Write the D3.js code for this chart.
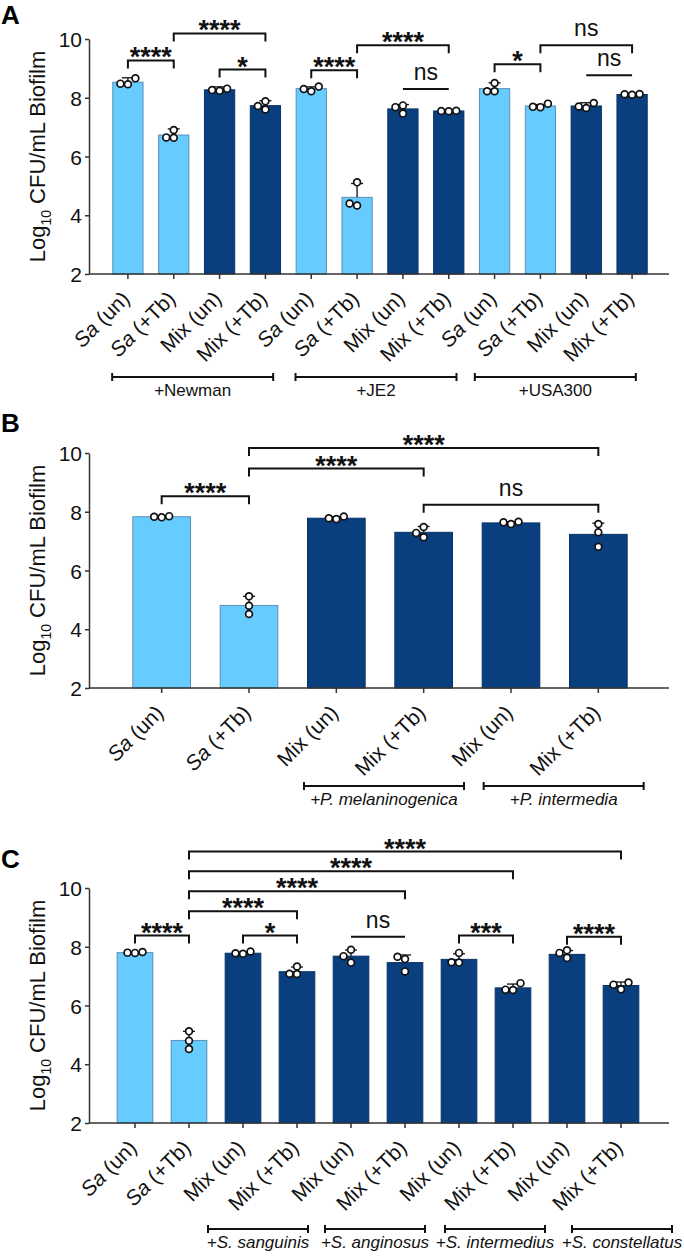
<!DOCTYPE html>
<html><head><meta charset="utf-8">
<script src="https://cdn.jsdelivr.net/npm/d3@7"></script>
<style>
body{margin:0;background:#fff}
svg{display:block}
text{font-family:"Liberation Sans",Arial,Helvetica,sans-serif}
</style>
</head><body>
<svg id="chart" width="684" height="1257"></svg>
<script>
// ---------------- DATA ----------------
const yTicks = [2, 4, 6, 8, 10];

// Panel A
const catsA = ["Sa (un)","Sa (+Tb)","Mix (un)","Mix (+Tb)","Sa (un)","Sa (+Tb)","Mix (un)","Mix (+Tb)","Sa (un)","Sa (+Tb)","Mix (un)","Mix (+Tb)"];
const meansA = [8.53, 6.73, 8.27, 7.73, 8.31, 4.61, 7.62, 7.55, 8.31, 7.72, 7.72, 8.11];
const errsA = [0.15, 0.21, 0.10, 0.17, 0.06, 0.47, 0.15, 0.03, 0.20, 0.05, 0.11, 0.04];
const pointsA = [[8.66,8.46,8.48],[6.90,6.65,6.64],[8.31,8.24,8.26],[7.88,7.72,7.60],[8.38,8.30,8.22],[5.12,4.33,4.40],[7.74,7.68,7.46],[7.56,7.54,7.55],[8.50,8.22,8.22],[7.80,7.69,7.68],[7.82,7.70,7.65],[8.12,8.10,8.13]];
const sigsA = [[0,1,9.27,"****",true],[1,3,10.19,"****",true],[2,3,8.96,"*",true],[4,5,8.94,"****",true],[5,7,9.79,"****",true],[6,7,8.30,"ns",false],[8,9,9.14,"*",true],[9,11,9.79,"ns",true],[10,11,8.77,"ns",false]];
const groupsA = [["+Newman",0,3],["+JE2",4,7],["+USA300",8,11]];

// Panel B
const catsB = ["Sa (un)","Sa (+Tb)","Mix (un)","Mix (+Tb)","Mix (un)","Mix (+Tb)"];
const meansB = [7.83, 4.81, 7.78, 7.30, 7.62, 7.23];
const errsB = [0.03, 0.31, 0.05, 0.20, 0.04, 0.38];
const pointsB = [[7.81,7.85,7.83],[5.12,4.80,4.52],[7.75,7.84,7.78],[7.48,7.28,7.13],[7.58,7.66,7.64],[7.58,7.30,6.81]];
const sigsB = [[0,1,8.53,"****",true],[1,3,9.47,"****",true],[1,5,10.17,"****",true],[3,5,8.24,"ns",true]];
const groupsB = [["+P. melaninogenica",2,3],["+P. intermedia",4,5]];

// Panel C
const catsC = ["Sa (un)","Sa (+Tb)","Mix (un)","Mix (+Tb)","Mix (un)","Mix (+Tb)","Mix (un)","Mix (+Tb)","Mix (un)","Mix (+Tb)"];
const meansC = [7.80, 4.81, 7.78, 7.15, 7.68, 7.46, 7.57, 6.60, 7.74, 6.68];
const errsC = [0.02, 0.31, 0.04, 0.16, 0.21, 0.26, 0.19, 0.13, 0.13, 0.12];
const pointsC = [[7.80,7.82,7.79],[5.12,4.80,4.52],[7.76,7.84,7.78],[7.33,7.07,7.08],[7.90,7.68,7.46],[7.66,7.58,7.16],[7.79,7.47,7.46],[6.76,6.53,6.54],[7.88,7.79,7.62],[6.78,6.71,6.55]];
const sigsC = [[0,1,8.38,"****",true],[1,3,9.21,"****",true],[1,5,9.89,"****",true],[1,7,10.57,"****",true],[1,9,11.24,"****",true],[2,3,8.38,"*",true],[4,5,8.34,"ns",false],[6,7,8.38,"***",true],[8,9,8.34,"****",true]];
const groupsC = [["+S. sanguinis",2,3],["+S. anginosus",4,5],["+S. intermedius",6,7],["+S. constellatus",8,9]];

// ---------------- STYLE / LAYOUT ----------------
const LIGHT = "#66CCFF", LIGHT_STROKE = "#5a8fb3";
const DARK = "#0A3F7F", DARK_STROKE = "#073263";
const AXIS = "#333";
const AXIS_X = 89, AXIS_R = 669;

const svg = d3.select("#chart");

function swarm(vals, y, d) {
  const order = vals.map((v, i) => i).sort((a, b) => vals[a] - vals[b]);
  const placed = [], out = new Array(vals.length);
  for (const i of order) {
    const py = y(vals[i]);
    for (const k of [0, -1, 1, -2, 2]) {
      const px = k * d;
      if (placed.every(p => Math.hypot(p[0] - px, p[1] - py) >= d * 0.95)) {
        placed.push([px, py]); out[i] = px; break;
      }
    }
  }
  return out;
}

function drawPanel(p) {
  const g = svg.append("g");
  const y = d3.scaleLinear().domain([2, 10]).range([p.yBottom, p.yTop]);
  const x = d3.scaleBand().domain(p.cats.map((c, i) => i)).range(p.xRange).paddingInner(0.34).paddingOuter(0.17);
  const cx = i => x(i) + x.bandwidth() / 2;
  const isSa = i => p.cats[i].startsWith("Sa");

  // bars
  g.selectAll("rect.bar").data(p.means).join("rect").attr("class", "bar")
    .attr("x", (d, i) => x(i)).attr("width", x.bandwidth())
    .attr("y", d => y(d)).attr("height", d => y(2) - y(d))
    .attr("fill", (d, i) => isSa(i) ? LIGHT : DARK)
    .attr("stroke", (d, i) => isSa(i) ? LIGHT_STROKE : DARK_STROKE)
    .attr("stroke-width", 1);

  // error bars (upper)
  const eb = g.append("g").attr("stroke", "#111").attr("stroke-width", 1.3);
  p.means.forEach((m, i) => {
    eb.append("line").attr("x1", cx(i)).attr("x2", cx(i)).attr("y1", y(m)).attr("y2", y(m + p.errs[i]));
    eb.append("line").attr("x1", cx(i) - 6).attr("x2", cx(i) + 6).attr("y1", y(m + p.errs[i])).attr("y2", y(m + p.errs[i]));
  });

  // points
  p.points.forEach((vals, i) => {
    const offs = swarm(vals, y, 7.5);
    g.selectAll(null).data(vals).join("circle")
      .attr("cx", (d, j) => cx(i) + offs[j]).attr("cy", d => y(d)).attr("r", 3.4)
      .attr("fill", "#fff").attr("stroke", "#111").attr("stroke-width", 1.7);
  });

  // y axis
  const ya = g.append("g").attr("transform", `translate(${AXIS_X},0)`)
    .call(d3.axisLeft(y).tickValues(yTicks).tickSize(4).tickSizeOuter(0).tickPadding(3));
  ya.select(".domain").attr("stroke", AXIS).attr("stroke-width", 1.5);
  ya.selectAll(".tick line").attr("stroke", AXIS).attr("stroke-width", 1.5);
  ya.selectAll(".tick text").attr("font-size", 21).attr("fill", "#111")
    .attr("font-family", "'Liberation Sans', Arial, sans-serif").attr("dy", "0.36em");

  // x axis
  const xa = g.append("g").attr("transform", `translate(0,${y(2)})`)
    .call(d3.axisBottom(x).tickSize(5).tickSizeOuter(0).tickFormat(""));
  xa.select(".domain").remove();
  xa.selectAll(".tick line").attr("stroke", AXIS).attr("stroke-width", 1.5);
  g.append("line").attr("x1", AXIS_X).attr("x2", AXIS_R).attr("y1", y(2)).attr("y2", y(2))
    .attr("stroke", AXIS).attr("stroke-width", 1.5);

  // x labels
  p.cats.forEach((c, i) => {
    const t = g.append("text")
      .attr("transform", `translate(${cx(i) + 3},${y(2) + 26}) rotate(-45)`)
      .attr("text-anchor", "end").attr("font-size", 21).attr("fill", "#111");
    const parts = c.split(" ");
    if (parts[0] === "Sa") {
      t.append("tspan").attr("font-style", "italic").text("Sa");
      t.append("tspan").text(" " + parts.slice(1).join(" "));
    } else t.text(c);
  });

  // significance brackets
  const sg = g.append("g");
  p.sigs.forEach(([a, b, lvl, lab, drops]) => {
    const ly = y(lvl);
    const path = drops
      ? `M${cx(a)},${ly + 8}V${ly}H${cx(b)}V${ly + 8}`
      : `M${cx(a)},${ly}H${cx(b)}`;
    sg.append("path").attr("d", path).attr("fill", "none").attr("stroke", "#111").attr("stroke-width", 2);
    const mid = (cx(a) + cx(b)) / 2;
    if (lab === "ns") {
      sg.append("text").attr("x", mid).attr("y", ly - 9).attr("text-anchor", "middle")
        .attr("font-size", 23).attr("fill", "#111").text(lab);
    } else {
      sg.append("text").attr("x", mid).attr("y", ly + 6).attr("text-anchor", "middle")
        .attr("font-size", 27).attr("font-weight", "bold").attr("fill", "#111").text(lab);
    }
  });

  // group brackets
  const gg = g.append("g");
  p.groups.forEach(([lab, a, b], k) => {
    const center = (cx(a) + cx(b)) / 2 + p.groupShift[k];
    const x1 = center - p.groupWidth / 2, x2 = center + p.groupWidth / 2;
    const by = y(2) + p.groupDy;
    gg.append("path").attr("d", `M${x1},${by - 4}V${by + 4}M${x1},${by}H${x2}M${x2},${by - 4}V${by + 4}`)
      .attr("fill", "none").attr("stroke", "#111").attr("stroke-width", 2);
    gg.append("text").attr("x", center).attr("y", by + 19).attr("text-anchor", "middle")
      .attr("font-size", 17).attr("fill", "#111")
      .attr("font-style", p.groupItalic ? "italic" : "normal").text(lab);
  });

  // y title
  const yc = (y(2) + y(10)) / 2;
  const tt = g.append("text").attr("transform", `translate(45,${yc}) rotate(-90)`)
    .attr("text-anchor", "middle").attr("font-size", 22).attr("fill", "#111");
  tt.append("tspan").text("Log");
  tt.append("tspan").attr("font-size", 14).attr("dy", 6).text("10");
  tt.append("tspan").attr("dy", -6).text(" CFU/mL Biofilm");

  // panel letter
  g.append("text").attr("x", 1).attr("y", p.letterY).attr("font-size", 26).attr("font-weight", "bold")
    .attr("fill", "#000").text(p.letter);
}

drawPanel({letter: "A", letterY: 24, cats: catsA, means: meansA, errs: errsA, points: pointsA, sigs: sigsA,
  groups: groupsA, groupItalic: false, groupShift: [-4, -4, -8], groupWidth: 161, groupDy: 103,
  yTop: 39, yBottom: 274, xRange: [105, 655]});
drawPanel({letter: "B", letterY: 432, cats: catsB, means: meansB, errs: errsB, points: pointsB, sigs: sigsB,
  groups: groupsB, groupItalic: true, groupShift: [4, 9], groupWidth: 160, groupDy: 98,
  yTop: 453, yBottom: 688, xRange: [118, 642]});
drawPanel({letter: "C", letterY: 868, cats: catsC, means: meansC, errs: errsC, points: pointsC, sigs: sigsC,
  groups: groupsC, groupItalic: true, groupShift: [-12, -3, 9, 28], groupWidth: 100, groupDy: 106,
  yTop: 888, yBottom: 1123, xRange: [108, 648]});
</script>
</body></html>
